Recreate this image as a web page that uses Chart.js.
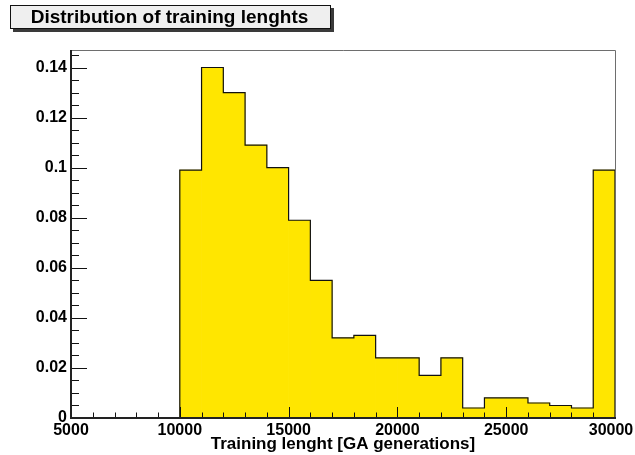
<!DOCTYPE html>
<html>
<head>
<meta charset="utf-8">
<title>Distribution of training lenghts</title>
<script src="https://cdn.jsdelivr.net/npm/chart.js@4.4.1/dist/chart.umd.min.js"></script>
<style>
  html, body { margin: 0; padding: 0; background: #ffffff; }
  #wrap { position: relative; width: 635px; height: 455px; }
</style>
</head>
<body>
<div id="wrap"><canvas id="hist" width="635" height="455"></canvas></div>
<script>
// Histogram bins (GA generations) and normalised bin contents
const binEdges = [10000, 11000, 12000, 13000, 14000, 15000, 16000, 17000, 18000, 19000, 20000,
                  21000, 22000, 23000, 24000, 25000, 26000, 27000, 28000, 29000, 30000];
const fractions = [0.099, 0.140, 0.130, 0.109, 0.100, 0.079, 0.055, 0.032, 0.033, 0.024,
                   0.024, 0.017, 0.024, 0.004, 0.008, 0.008, 0.006, 0.005, 0.004, 0.099];

// Axis tick labels
const xTickLabels = ['5000', '10000', '15000', '20000', '25000', '30000'];
const yTickLabels = ['0', '0.02', '0.04', '0.06', '0.08', '0.1', '0.12', '0.14'];

const TITLE = 'Distribution of training lenghts';
const X_TITLE = 'Training lenght [GA generations]';

const X_MIN = 5000, X_MAX = 30000, X_MAJOR = 5000, X_MINOR = 1000;
const Y_MAJOR = 0.02, Y_MINOR = 0.005;
const Y_MAX = Math.max(...fractions) * 1.05;

const FONT = "'Liberation Sans', Arial, Helvetica, sans-serif";
const FILL = '#ffe600';

// bar per bin, centred on the bin
const barPoints = fractions.map((v, i) => ({ x: (binEdges[i] + binEdges[i + 1]) / 2, y: v }));

// step outline around the histogram
const outline = [{ x: binEdges[0], y: 0 }];
fractions.forEach((v, i) => outline.push({ x: binEdges[i], y: v }));
outline.push({ x: binEdges[binEdges.length - 1], y: 0 });

// inward ticks, frame and title box
const frameAndTicks = {
  id: 'frameAndTicks',
  beforeDraw(chart) {
    // keep the last x label inside the canvas
    const xs = chart.scales.x;
    const items = xs.getLabelItems(chart.chartArea);
    const last = items && items[items.length - 1];
    if (last && last.options && last.options.translation) {
      last.options.translation[0] -= 4;
    }
  },
  afterDatasetsDraw(chart) {
    const { ctx, chartArea: a, scales: { x, y } } = chart;
    const L = Math.round(a.left), B = Math.round(a.bottom);
    ctx.save();
    ctx.lineWidth = 1;
    ctx.strokeStyle = '#111';
    ctx.beginPath();
    // y axis ticks
    for (let k = 0; k * Y_MINOR <= y.max + 1e-9; k++) {
      const v = k * Y_MINOR;
      const py = Math.round(y.getPixelForValue(v)) + 0.5;
      const len = (k % Math.round(Y_MAJOR / Y_MINOR) === 0) ? 16 : 8;
      ctx.moveTo(L, py); ctx.lineTo(L + len, py);
    }
    // x axis ticks
    for (let v = X_MIN; v <= X_MAX; v += X_MINOR) {
      const px = Math.round(x.getPixelForValue(v)) + 0.5;
      const len = ((v - X_MIN) % X_MAJOR === 0) ? 11 : 5.5;
      ctx.moveTo(px, B); ctx.lineTo(px, B - len);
    }
    ctx.stroke();

    // top and right frame
    ctx.strokeStyle = '#6e6e6e';
    ctx.beginPath();
    ctx.moveTo(L, Math.round(a.top) + 0.5);
    ctx.lineTo(Math.round(a.right) + 0.5, Math.round(a.top) + 0.5);
    ctx.lineTo(Math.round(a.right) + 0.5, B);
    ctx.stroke();

    // axis lines
    ctx.strokeStyle = '#222';
    ctx.lineWidth = 2;
    ctx.beginPath();
    ctx.moveTo(L, Math.round(a.top));
    ctx.lineTo(L, B);
    ctx.lineTo(Math.round(a.right) + 1, B);
    ctx.stroke();
    ctx.restore();
  },
  afterDraw(chart) {
    const { ctx } = chart;
    const bx = 10, by = 5, bw = 321, bh = 24, sh = 3;
    ctx.save();
    ctx.fillStyle = '#3a3a3a';
    ctx.fillRect(bx + sh, by + sh, bw, bh);
    ctx.fillStyle = '#efefef';
    ctx.fillRect(bx, by, bw, bh);
    ctx.strokeStyle = '#111';
    ctx.lineWidth = 1;
    ctx.strokeRect(bx + 0.5, by + 0.5, bw - 1, bh - 1);
    ctx.fillStyle = '#000';
    ctx.font = 'bold 19px ' + FONT;
    ctx.textAlign = 'center';
    ctx.textBaseline = 'middle';
    ctx.fillText(TITLE, bx + bw / 2 - 1, by + bh / 2 + 1);
    ctx.restore();
  }
};

new Chart(document.getElementById('hist'), {
  data: {
    datasets: [
      {
        type: 'line',
        data: outline,
        stepped: 'before',
        borderColor: '#111',
        borderWidth: 1.2,
        pointRadius: 0,
        fill: false,
        order: 0
      },
      {
        type: 'bar',
        data: barPoints,
        backgroundColor: FILL,
        borderWidth: 0,
        barPercentage: 1,
        categoryPercentage: 1,
        grouped: false,
        order: 1
      }
    ]
  },
  options: {
    responsive: false,
    animation: false,
    layout: { padding: { top: 50, right: 20, bottom: 0, left: 0 } },
    plugins: { legend: { display: false }, tooltip: { enabled: false }, title: { display: false } },
    scales: {
      x: {
        type: 'linear',
        min: X_MIN,
        max: X_MAX,
        offset: false,
        afterFit(s) { s.height = 37; s.paddingLeft = 0; s.paddingRight = 0; },
        grid: { display: false, drawTicks: false, offset: false },
        border: { display: false },
        ticks: {
          stepSize: X_MAJOR,
          padding: 3,
          maxRotation: 0,
          autoSkip: false,
          color: '#000',
          font: { family: FONT, size: 16, weight: 'bold' },
          callback: (v) => xTickLabels[Math.round((v - X_MIN) / X_MAJOR)]
        },
        title: {
          display: true,
          text: X_TITLE,
          color: '#000',
          padding: { top: 0, bottom: 0 },
          font: { family: FONT, size: 17, weight: 'bold' }
        }
      },
      y: {
        type: 'linear',
        min: 0,
        max: Y_MAX,
        afterFit(s) { s.width = 71; s.paddingTop = 0; s.paddingBottom = 0; },
        grid: { display: false, drawTicks: false },
        border: { display: false },
        ticks: {
          stepSize: Y_MAJOR,
          includeBounds: false,
          padding: 4,
          color: '#000',
          font: { family: FONT, size: 16, weight: 'bold' },
          callback: (v) => yTickLabels[Math.round(v / Y_MAJOR)]
        }
      }
    }
  },
  plugins: [frameAndTicks]
});
</script>
</body>
</html>
